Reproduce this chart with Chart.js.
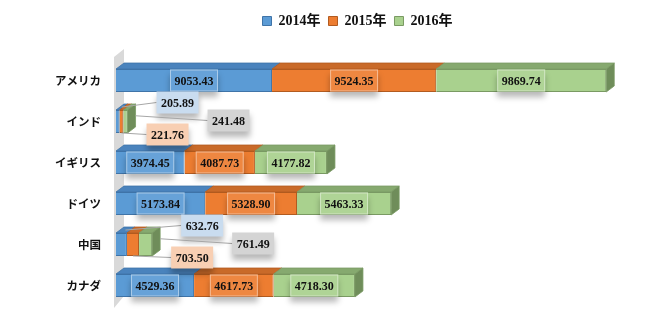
<!DOCTYPE html>
<html><head><meta charset="utf-8">
<script src="https://cdn.jsdelivr.net/npm/chart.js@4.4.0/dist/chart.umd.min.js"></script>
<style>html,body{margin:0;padding:0;background:#fff}#wrap{width:650px;height:325px}</style>
</head><body><div id="wrap"><canvas id="c" width="650" height="325"></canvas></div>
<script>
const categories = ['アメリカ','インド','イギリス','ドイツ','中国','カナダ'];
const seriesNames = ['2014年','2015年','2016年'];
const v2014 = [9053.43, 205.89, 3974.45, 5173.84, 632.76, 4529.36];
const v2015 = [9524.35, 221.76, 4087.73, 5328.90, 703.50, 4617.73];
const v2016 = [9869.74, 241.48, 4177.82, 5463.33, 761.49, 4718.30];

const front = ['#5b9bd5','#ed7d31','#a9d18e'];
const border = ['#3f74a8','#b25b20','#7a9a63'];
const topC = ['#4a83bd','#c96a29','#86a96f'];
const sideC = ['#3d6fa1','#a9561c','#6f8d5a'];
const calloutFill = ['#c9dcef','#f8cfb3','#d4d4d4'];
const DX = 8, DY = 6;
const NUMFONT = "bold 12px 'Liberation Serif', 'Times New Roman', serif";
const callOffsets = [[50,-19],[40,13],[101,-1]];

const fmt = v => v.toFixed(2);

const legendTweak = {
  id:'legendTweak',
  afterInit(chart){
    const lg = chart.legend;
    const orig = lg.fit;
    lg.fit = function(){ orig.call(this); this.height += 22; };
  },
  afterLayout(chart){
    const lg = chart.legend;
    lg.left -= 17; lg.right -= 17;
  }
};

const threeD = {
  id:'threeD',
  beforeDatasetsDraw(chart){
    const ctx = chart.ctx, a = chart.chartArea;
    ctx.save();
    ctx.fillStyle = '#d9d9d9';
    ctx.beginPath();
    ctx.moveTo(a.left-2, a.top-3);
    ctx.lineTo(a.left-2+10, a.top-3-DY-2);
    ctx.lineTo(a.left-2+10, a.bottom-DY-4);
    ctx.lineTo(a.left-2, a.bottom+2);
    ctx.closePath(); ctx.fill();
    ctx.restore();
  },
  afterDatasetsDraw(chart){
    const ctx = chart.ctx;
    const n = chart.data.labels.length;
    ctx.save();
    for(let i=0;i<n;i++){
      const metas = chart.data.datasets.map((d,k)=>chart.getDatasetMeta(k).data[i]);
      metas.forEach((el,k)=>{
        const x0 = el.base, x1 = el.x, yt = el.y - el.height/2;
        ctx.fillStyle = topC[k]; ctx.strokeStyle = border[k]; ctx.lineWidth = 0.8;
        ctx.beginPath();
        ctx.moveTo(x0,yt); ctx.lineTo(x0+DX,yt-DY); ctx.lineTo(x1+DX,yt-DY); ctx.lineTo(x1,yt);
        ctx.closePath(); ctx.fill(); ctx.stroke();
      });
      const k = metas.length-1, el = metas[k];
      const x1 = el.x, yt = el.y - el.height/2, yb = el.y + el.height/2;
      ctx.fillStyle = sideC[k]; ctx.strokeStyle = border[k];
      ctx.beginPath();
      ctx.moveTo(x1,yt); ctx.lineTo(x1+DX,yt-DY); ctx.lineTo(x1+DX,yb-DY); ctx.lineTo(x1,yb);
      ctx.closePath(); ctx.fill(); ctx.stroke();
    }
    ctx.restore();
  },
  afterDraw(chart){
    const ctx = chart.ctx;
    const n = chart.data.labels.length;
    ctx.save();
    ctx.font = NUMFONT; ctx.textAlign='center'; ctx.textBaseline='middle';
    for(let i=0;i<n;i++){
      const metas = chart.data.datasets.map((d,k)=>chart.getDatasetMeta(k).data[i]);
      const endX = metas[metas.length-1].x;
      const small = metas.some(el => (el.x-el.base) < 60);
      metas.forEach((el,k)=>{
        const val = chart.data.datasets[k].data[i];
        const txt = fmt(val);
        const w = ctx.measureText(txt).width + 9, h = 22;
        let cx, cy;
        if(small){
          cx = endX + callOffsets[k][0]; cy = el.y + callOffsets[k][1];
          let sx, sy;
          const mx = (el.base+el.x)/2;
          if(k===0){ sx = mx+DX/2; sy = el.y-el.height/2-DY/2; }
          else if(k===1){ sx = mx; sy = el.y+el.height/2; }
          else { sx = el.x+DX; sy = el.y-el.height/4; }
          ctx.strokeStyle = '#a6a6a6'; ctx.lineWidth = 1;
          ctx.beginPath(); ctx.moveTo(sx,sy); ctx.lineTo(cx-w/2, cy); ctx.stroke();
        } else {
          cx = (el.base+el.x)/2; cy = el.y;
        }
        ctx.save();
        ctx.shadowColor = 'rgba(0,0,0,0.28)'; ctx.shadowBlur = 6;
        ctx.shadowOffsetX = 10000; ctx.shadowOffsetY = 5;
        ctx.fillStyle = '#000';
        ctx.fillRect(cx-w/2-10000, cy-h/2, w, h);
        ctx.restore();
        if(small){
          ctx.fillStyle = calloutFill[k];
          ctx.fillRect(cx-w/2, cy-h/2, w, h);
        } else {
          ctx.fillStyle = front[k];
          ctx.fillRect(cx-w/2, cy-h/2, w, h);
          ctx.fillStyle = 'rgba(255,255,255,0.08)';
          ctx.fillRect(cx-w/2, cy-h/2, w, h);
          ctx.strokeStyle = 'rgba(255,255,255,0.45)'; ctx.lineWidth = 1;
          ctx.strokeRect(cx-w/2+0.5, cy-h/2+0.5, w-1, h-1);
        }
        ctx.fillStyle = '#111';
        ctx.fillText(txt, cx, cy+1);
      });
    }
    ctx.restore();
  }
};

new Chart(document.getElementById('c'), {
  type:'bar',
  data:{
    labels: categories,
    datasets: [v2014, v2015, v2016].map((arr,k)=>({
      label: seriesNames[k], data: arr,
      backgroundColor: front[k], borderColor: border[k], borderWidth: 1,
      barPercentage: 0.56, categoryPercentage: 1
    }))
  },
  options:{
    indexAxis:'y', responsive:false, animation:false,
    layout:{padding:{top:6,right:17,bottom:19,left:0}},
    plugins:{
      tooltip:{enabled:false},
      legend:{
        position:'top', fullSize:false,
        labels:{
          boxWidth:9, boxHeight:9, padding:8, color:'#111',
          font:{family:"'Liberation Serif', 'Noto Sans CJK JP', serif", weight:'bold', size:14}
        }
      }
    },
    scales:{
      x:{stacked:true, display:false, min:0, max:30000, grid:{display:false}},
      y:{stacked:true, grid:{display:false}, border:{display:false},
        ticks:{color:'#111', padding:7, font:{family:"'Noto Sans CJK JP', sans-serif", weight:'bold', size:11.5}},
        afterFit(s){ s.width = 116; }
      }
    }
  },
  plugins:[legendTweak, threeD]
});
</script>
</body></html>
